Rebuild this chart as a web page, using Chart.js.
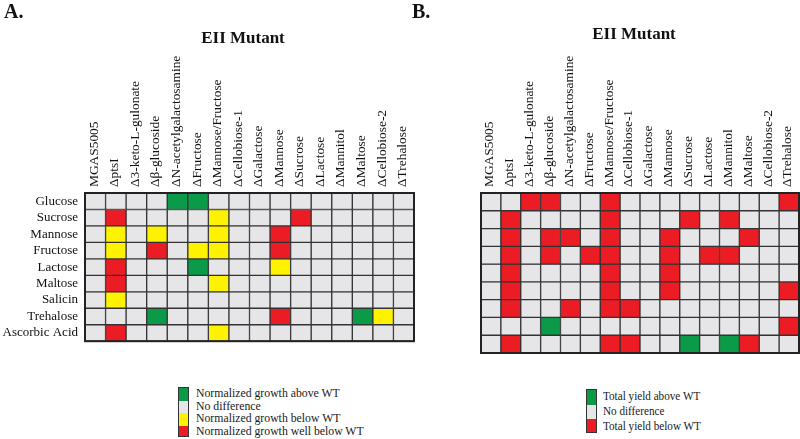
<!DOCTYPE html>
<html>
<head>
<meta charset="utf-8">
<script src="https://cdn.jsdelivr.net/npm/chart.js@4"></script>
<style>
  html, body { margin: 0; padding: 0; background: #fff; }
  #wrap { position: relative; width: 800px; height: 439px; overflow: hidden; font-family: "Liberation Serif", "Times New Roman", serif; color: #111; }
  canvas { position: absolute; top: 0; }
  .panel { position: absolute; font-weight: bold; font-size: 20px; line-height: 20px; }
  .title { position: absolute; font-weight: bold; font-size: 17px; line-height: 17px; width: 200px; text-align: center; }
  .legend { position: absolute; }
  .legend .boxes { position: absolute; left: 0; top: 0; width: 9px; border: 1px solid #333; }
  .legend .boxes div { width: 9px; }
  .legend .txt { position: absolute; white-space: nowrap; transform-origin: 0 50%; color: #1a1a1a; }
</style>
</head>
<body>
<div id="wrap">
  <canvas id="chartA" width="420" height="356" style="left:0px"></canvas>
  <canvas id="chartB" width="400" height="356" style="left:400px"></canvas>
  <div class="panel" style="left:4px; top:1px;">A.</div>
  <div class="panel" style="left:412px; top:1px;">B.</div>
  <div class="title" style="left:143px; top:29px;">EII Mutant</div>
  <div class="title" style="left:534px; top:25px;">EII Mutant</div>
  <div id="legendA" class="legend" style="left:178px; top:387px;"></div>
  <div id="legendB" class="legend" style="left:586px; top:389px;"></div>
</div>
<script>
// ---- Data ----
const mutants = ['MGAS5005', 'ΔptsI', 'Δ3-keto-L-gulonate', 'Δβ-glucoside', 'ΔN-acetylgalactosamine',
  'ΔFructose', 'ΔMannose/Fructose', 'ΔCellobiose-1', 'ΔGalactose', 'ΔMannose', 'ΔSucrose',
  'ΔLactose', 'ΔMannitol', 'ΔMaltose', 'ΔCellobiose-2', 'ΔTrehalose'];
const sugars = ['Glucose', 'Sucrose', 'Mannose', 'Fructose', 'Lactose', 'Maltose', 'Salicin', 'Trehalose', 'Ascorbic Acid'];

// Panel A: normalized growth. 0 = no difference, 1 = above WT, 2 = below WT, 3 = well below WT
const growthA = [
  [0,0,0,0,1,1,0,0,0,0,0,0,0,0,0,0], // Glucose
  [0,3,0,0,0,0,2,0,0,0,3,0,0,0,0,0], // Sucrose
  [0,2,0,2,0,0,2,0,0,3,0,0,0,0,0,0], // Mannose
  [0,2,0,3,0,2,2,0,0,3,0,0,0,0,0,0], // Fructose
  [0,3,0,0,0,1,0,0,0,2,0,0,0,0,0,0], // Lactose
  [0,3,0,0,0,0,2,0,0,0,0,0,0,0,0,0], // Maltose
  [0,2,0,0,0,0,0,0,0,0,0,0,0,0,0,0], // Salicin
  [0,0,0,1,0,0,0,0,0,3,0,0,0,1,2,0], // Trehalose
  [0,3,0,0,0,0,2,0,0,0,0,0,0,0,0,0]  // Ascorbic Acid
];
// Panel B: total yield. 0 = no difference, 1 = above WT, 3 = below WT
const yieldB = [
  [0,0,3,3,0,0,3,0,0,0,0,0,0,0,0,3], // Glucose
  [0,3,0,0,0,0,3,0,0,0,3,0,3,0,0,0], // Sucrose
  [0,3,0,3,3,0,3,0,0,3,0,0,0,3,0,0], // Mannose
  [0,3,0,3,0,3,3,0,0,3,0,3,3,0,0,0], // Fructose
  [0,3,0,0,0,0,3,0,0,3,0,0,0,0,0,0], // Lactose
  [0,3,0,0,0,0,3,0,0,3,0,0,0,0,0,3], // Maltose
  [0,3,0,0,3,0,3,3,0,0,0,0,0,0,0,0], // Salicin
  [0,0,0,1,0,0,0,0,0,0,0,0,0,0,0,3], // Trehalose
  [0,3,0,0,0,0,3,3,0,0,1,0,1,3,0,0]  // Ascorbic Acid
];
const legendLabelsA = ['Normalized growth above WT', 'No difference', 'Normalized growth below WT', 'Normalized growth well below WT'];
const legendCodesA = [1, 0, 2, 3];
const legendLabelsB = ['Total yield above WT', 'No difference', 'Total yield below WT'];
const legendCodesB = [1, 0, 3];

// ---- Styles ----
const palette = { 0: '#e6e6e8', 1: '#0b9a48', 2: '#fff200', 3: '#ec1c24' };
const gridColor = '#333333';
const serif = '"Liberation Serif", "Times New Roman", serif';

const outerBorder = {
  id: 'outerBorder',
  afterDatasetsDraw(chart) {
    const { ctx, chartArea: a } = chart;
    ctx.save();
    ctx.strokeStyle = '#222';
    ctx.lineWidth = 2;
    ctx.strokeRect(a.left, a.top, a.right - a.left, a.bottom - a.top);
    ctx.restore();
  }
};

function makeHeatmap(canvasId, rows, showRowLabels, yWidth, padRight) {
  const datasets = rows.map((row, i) => ({
    label: sugars[i],
    data: mutants.map(() => 1),
    backgroundColor: row.map(c => palette[c]),
    borderColor: gridColor,
    borderWidth: 1,
    borderSkipped: false,
    barPercentage: 1,
    categoryPercentage: 1
  }));
  return new Chart(document.getElementById(canvasId), {
    type: 'bar',
    data: { labels: mutants, datasets },
    options: {
      responsive: false,
      animation: false,
      devicePixelRatio: 1,
      layout: { padding: { left: 0, top: 0, right: padRight, bottom: 3 } },
      plugins: { legend: { display: false }, tooltip: { enabled: false }, title: { display: false } },
      scales: {
        x: {
          position: 'top',
          stacked: true,
          grid: { display: false, drawTicks: false },
          border: { display: false },
          ticks: {
            autoSkip: false, minRotation: 90, maxRotation: 90, padding: 6, labelOffset: 15,
            color: '#111', font: { family: serif, size: 13.4 }
          },
          afterFit(scale) { scale.height = 193; }
        },
        y: {
          type: 'linear',
          stacked: true,
          reverse: true,
          min: 0,
          max: sugars.length,
          grid: { display: false, drawTicks: false },
          border: { display: false },
          afterBuildTicks(scale) { scale.ticks = sugars.map((s, i) => ({ value: i + 0.5 })); },
          ticks: {
            display: showRowLabels,
            autoSkip: false,
            padding: 7,
            color: '#111',
            font: { family: serif, size: 13 },
            callback: (v, i) => sugars[i]
          },
          afterFit(scale) { scale.width = yWidth; }
        }
      }
    },
    plugins: [outerBorder]
  });
}

makeHeatmap('chartA', growthA, true, 85, 6);
makeHeatmap('chartB', yieldB, false, 81, 1);

function buildLegend(id, labels, codes, segH, fontSize, scale, textLeft) {
  const el = document.getElementById(id);
  const boxes = document.createElement('div');
  boxes.className = 'boxes';
  codes.forEach((c, i) => {
    const d = document.createElement('div');
    d.style.height = (i === codes.length - 1 ? segH - 2 : segH) + 'px';
    d.style.background = palette[c];
    boxes.appendChild(d);
  });
  el.appendChild(boxes);
  labels.forEach((t, i) => {
    const s = document.createElement('div');
    s.className = 'txt';
    s.textContent = t;
    s.style.left = textLeft + 'px';
    s.style.top = (i * segH + segH / 2 - 7) + 'px';
    s.style.lineHeight = '14px';
    s.style.fontSize = fontSize + 'px';
    s.style.transform = 'scaleX(' + scale + ')';
    el.appendChild(s);
  });
}
buildLegend('legendA', legendLabelsA, legendCodesA, 12.5, 12, 0.98, 18);
buildLegend('legendB', legendLabelsB, legendCodesB, 14.7, 12, 0.93, 17);
</script>
</body>
</html>
